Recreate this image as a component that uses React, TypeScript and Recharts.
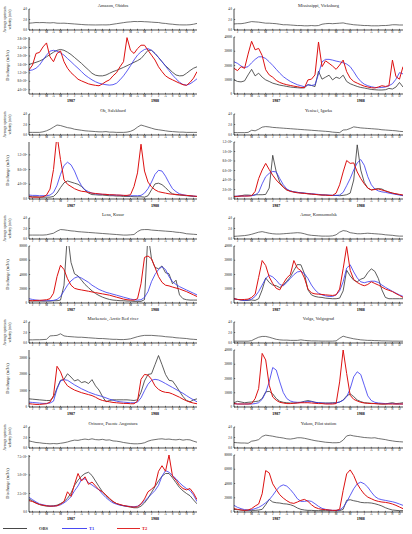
import { LineChart, Line, XAxis, YAxis } from 'recharts';

// time axis: half-month steps from Jan 1987 to end of Dec 1988 (months)
const MONTHS = ['J', 'F', 'M', 'A', 'M', 'J', 'J', 'A', 'S', 'O', 'N', 'D'];
const YEARS = ['1987', '1988'];
const T = Array.from({ length: 49 }, (_, i) => i / 2);
const MONTH_TICKS = Array.from({ length: 24 }, (_, i) => i + 0.5);
const YEAR_TICKS = [6, 18];

// velocity in m/s, discharge in 10^3 m3/s
const amazonVel = [1.3,1.35,1.42,1.4,1.42,1.38,1.35,1.4,1.3,1.28,1.3,1.25,1.2,1.15,1.1,1.05,1.0,0.98,0.97,0.96,0.97,0.98,0.97,1.0,1.1,1.2,1.3,1.4,1.5,1.55,1.62,1.6,1.62,1.58,1.55,1.5,1.45,1.42,1.3,1.25,1.15,1.1,1.02,0.98,0.97,0.97,1.0,1.1,1.25];
const amazonObs = [160,165,170,176,184,196,207,218,227,231,227,218,207,193,179,165,149,134,118,109,106,106,110,118,126,132,139,146,154,162,170,178,188,207,227,227,212,193,173,154,139,123,110,106,107,118,131,142,149];
const amazonT1 = [131,134,142,157,181,204,223,227,223,215,204,188,173,157,142,126,110,98,87,78,71,67,64,62,64,71,87,106,129,154,181,204,220,231,235,227,212,193,173,152,131,110,92,76,65,62,68,79,92];
const amazonT2 = [134,157,212,217,243,262,196,173,212,224,173,142,121,106,90,82,75,68,64,61,59,68,79,87,106,121,149,173,287,227,212,235,251,251,227,204,181,149,126,106,95,87,79,71,64,61,75,95,126];

const missVel = [1.15,1.2,1.2,1.3,1.45,1.6,1.55,1.5,1.4,1.3,1.3,1.25,1.2,1.1,1.0,1.0,0.95,0.9,0.85,0.85,0.8,0.8,0.85,0.8,0.85,1.1,1.2,1.25,1.2,1.25,1.3,1.35,1.2,1.1,1.0,0.95,0.9,0.85,0.85,0.8,0.8,0.8,0.85,0.85,0.9,1.0,1.0,0.95,0.95];
const missObs = [9.9,8.8,8.5,9.2,13.4,17.3,12.7,14.6,11.8,9.9,8.8,7.6,6.9,6.2,5.8,5.3,4.9,4.6,4.4,4.2,4.4,6.5,6.0,5.2,16.0,10.4,11.8,13.2,9.9,11.8,10.9,13.2,8.8,7.2,6.2,5.3,4.6,4.2,3.7,3.2,3.0,2.8,2.8,3.0,3.9,3.5,4.9,8.1,4.9];
const missT1 = [22.6,21.5,19.6,18.5,19.2,21.9,24.3,26.1,26.1,24.9,22.6,20.1,17.3,14.6,12.2,10.4,8.8,7.6,6.5,5.8,5.1,6.5,6.0,6.5,14.0,22.6,24.3,24.3,23.8,23.1,22.6,21.9,21.0,19.2,15.7,11.8,8.8,6.9,5.8,5.1,4.6,4.4,4.6,4.9,5.8,7.2,10.4,15.0,14.1];
const missT2 = [18.0,16.4,19.2,18.0,28.0,37.0,31.0,32.0,27.0,17.0,13.4,11.8,9.5,8.1,7.2,6.5,6.0,5.5,5.1,4.6,4.4,9.9,10.4,13.4,36.5,19.2,23.3,21.5,19.6,17.3,20.3,23.8,15.7,11.1,8.8,7.6,6.5,5.5,4.9,4.4,4.2,4.9,5.8,5.3,5.8,23.8,12.2,10.4,19.2];

const obVel = [0.5,0.5,0.5,0.5,0.6,0.8,1.1,1.5,1.9,1.8,1.6,1.4,1.3,1.1,1.0,0.9,0.8,0.75,0.7,0.65,0.6,0.6,0.65,0.55,0.55,0.5,0.5,0.5,0.55,0.7,1.0,1.5,1.9,1.7,1.5,1.3,1.1,1.0,0.9,0.8,0.7,0.65,0.6,0.55,0.55,0.5,0.5,0.5,0.5];
const obObs = [7,6,6,5,5,5,5,7,16,31,44,49,46,43,40,34,24,16,12,11.5,10.7,10.7,9.8,8.9,8.9,8,8,7,7,7,6,6,6,5,8.9,25,41,43,39,31,21,14,11.5,10.7,9.8,8.9,8,7,7];
const obT1 = [10.7,9.8,9.8,8.9,8.9,8.9,10.7,17.8,37,67,91,100,93,76,53,36,25,20,16,14,13,12.5,12.5,11.5,10.7,10.7,9.8,9.8,8.9,8.9,8.9,8.9,9.8,16,28,46,67,78,76,62,44,28,20,14,11.5,9.8,8.9,8,7];
const obT2 = [6,5,5,5,6,10.7,27,80,175,107,52,40,34,28,24,21,20,17.8,16,15,14,13,12.5,11.5,11.5,10.7,10.7,9.8,9.8,11.5,34,71,149,76,46,33,25,20,17.8,16,14,13,12.5,11.5,10.7,9.8,8.9,8,7];

const yenVel = [0.45,0.45,0.45,0.45,0.5,0.9,0.8,1.1,1.5,1.6,1.55,1.45,1.4,1.35,1.3,1.25,1.2,1.15,1.1,1.05,1.0,0.95,0.9,0.85,0.8,0.75,0.7,0.65,0.55,0.5,0.45,0.95,1.0,1.25,1.55,1.45,1.35,1.3,1.25,1.2,1.15,1.1,1.0,0.95,0.9,0.85,0.8,0.7,0.65];
const yenObs = [4,5.5,6.9,8.3,8.3,7.6,9,9,9,9.7,23,92,57,35,25,19,17,15,14,13,12.4,11,10.4,9.7,9,8.3,8.3,7.6,7.6,7.6,6.9,7.6,9,12.4,40,114,61,35,23,19,21,22,21,17,14.5,12.4,10.4,9,7.6];
const yenT1 = [5.5,6.2,6.2,6.2,6.9,6.9,8.3,14,32,47,54,58,57,43,30,21,17,15,14,13,12.4,11.7,11,10.4,9.7,9,8.3,8.3,7.6,7.6,8.3,14,28,43,61,76,83,71,47,30,21,17,15,14,12.4,11,9.7,8.3,6.9];
const yenT2 = [5.5,5.5,6.2,6.2,6.2,6.9,16,43,61,75,62,50,40,32,25,19,16,14.5,13,12.4,11.7,11,10.4,9.7,9,8.3,8.3,7.6,7.6,12.4,30,57,81,75,76,57,43,32,23,19,20,21,19,17,14.5,12.4,11,9.7,8.3];

const lenaVel = [0.75,0.75,0.75,0.75,0.75,0.8,0.95,1.1,1.5,1.8,1.75,1.65,1.55,1.5,1.4,1.35,1.3,1.25,1.2,1.15,1.1,1.05,1.0,0.95,0.9,0.85,0.8,0.75,0.75,0.8,0.85,1.4,1.75,1.8,1.8,1.7,1.65,1.6,1.55,1.5,1.45,1.4,1.3,1.25,1.15,1.0,0.95,0.9,0.85];
const lenaObs = [3.2,2.7,2.7,2.7,2.7,2.7,2.7,3.2,3.2,4.1,25,98,57,41,38,32,26,21.5,17,13.3,10.5,8.2,6.4,5,4.1,3.7,3.2,3.2,2.7,2.7,2.3,2.3,2.3,4.6,98,62,50,48,52,42.5,41,27,32,11.4,6,4.6,4.1,4.1,4.1];
const lenaT1 = [6,5,4.1,3.7,3.2,3.2,3.2,3.7,5,9.1,17,25,31,35,37,35,32,29,25,22,19,17,15,13.7,12.3,11,9.6,8.2,6.9,5.5,4.6,4.1,4.6,7.8,16,30,40,47,51,47,37,30,26,23,20.6,18.3,16,13.7,11.4];
const lenaT2 = [3.2,3.2,3.7,3.7,4.1,4.6,6,13.7,37,53,47,34,25,20.6,19.2,18.3,17.4,16.5,15.5,14.6,13.7,12.8,11.9,11,9.6,8.2,6.9,5.5,4.6,4.1,4.1,6,27,64,66,62,50,37,29,25,24,22.4,21,19.7,17.8,16,13.7,11.4,9.1];

const amurVel = [0.5,0.55,0.6,0.65,0.75,0.9,1.1,1.3,1.4,1.25,1.1,1.0,0.95,0.95,1.0,1.05,1.1,1.15,1.2,1.15,1.0,0.8,0.7,0.65,0.6,0.55,0.55,0.55,0.6,0.8,1.3,1.6,1.5,1.2,1.1,1.0,1.0,1.05,1.1,1.05,1.0,0.95,0.9,0.8,0.75,0.7,0.6,0.55,0.55];
const amurObs = [3,2.5,2.1,1.8,1.8,2.1,1.8,3,9.2,17.6,14.4,12.6,12.1,10.8,12.6,15.3,18.3,22.9,27,26.8,20.6,9.2,5.7,4.6,4.1,3.9,3.4,3.2,3,3,3.4,8.5,23,19,16,14.9,16.7,17.6,21.3,24,22.2,17.2,9.2,3.9,3,3,3,3,3];
const amurT1 = [3,2.5,2.1,1.8,2.1,2.7,4.6,8,12.6,17.2,19.5,18.3,16,13,12.1,14.4,17.2,19.9,21.8,22.2,20.6,17.2,12.6,9.2,6.9,5.7,5,4.6,4.6,5.7,8.5,14.9,24.5,26.8,21.8,17.6,14.9,14.2,14.9,15.3,15.3,14.4,12.6,11,9.6,8.2,6.9,5.7,4.6];
const amurT2 = [3,2.5,2.3,2.5,2.7,3.9,6.2,18,29.8,26.3,18.3,13.7,10.3,9.2,13.7,17.6,19.9,29.8,24.5,22.7,17.6,9.8,7.1,6.4,6.2,6,5.7,5.5,5.3,5.7,9.8,24,39.6,22.9,16.5,14.4,13,12.1,13,14.9,13.7,12.6,11.2,9.8,8.9,8,6.6,5.3,3.9];

const mackVel = [0.6,0.6,0.62,0.62,0.65,0.7,1.35,1.4,1.45,1.75,1.35,1.25,1.2,1.15,1.1,1.1,1.05,1.0,0.95,0.9,0.85,0.85,0.8,0.75,0.7,0.7,0.65,0.65,0.7,0.8,1.0,1.2,1.35,1.45,1.45,1.45,1.4,1.35,1.3,1.2,1.15,1.1,1.0,0.95,0.9,0.85,0.75,0.7,0.65];
const mackObs = [5,4.8,4.6,4.4,4.2,4,4,6,11.6,16.4,17,20.4,18.4,16,16.8,15,15.6,14.4,16.8,13,10.4,6.4,3.2,4,4.4,4.4,4.4,4.4,4.4,4.2,4,4.4,9,16,20,20.4,26,31.6,26,20,16.4,16,13,9.6,6.4,4,3.2,4.4,5];
const mackT1 = [3,2.8,2.6,2.4,2.2,2.2,2.4,3.6,11,16,16.8,16.4,15,13.6,12.4,11.2,10.2,9.2,8.4,7.6,7,6.4,5.6,4.8,4.2,3.6,3.2,3,2.8,2.6,2.6,3,5.6,10,14,16.4,17,16.6,15.6,14.4,13.2,12,10.8,9.6,8.4,7,5.6,4.4,3.2];
const mackT2 = [2,1.8,1.6,1.6,1.8,2,3,7,25,21.6,16,13,11.6,10.4,9.6,8.8,8.2,7.6,7,6,4.8,4,3.6,3.2,2.8,2.6,2.4,2.2,2.2,2,2,3.6,17,20,19.6,17,13,10.8,9.6,9,8.8,8,7,6,4.8,3.8,3,2.4,2];

const volgaVel = [0.35,0.35,0.35,0.35,0.35,0.45,0.8,1.1,1.25,1.25,1.1,0.9,0.7,0.6,0.55,0.55,0.5,0.5,0.5,0.6,0.5,0.45,0.4,0.4,0.38,0.36,0.36,0.36,0.36,0.4,0.9,1.3,1.1,0.95,0.8,0.7,0.6,0.55,0.5,0.5,0.45,0.45,0.4,0.4,0.38,0.36,0.36,0.35,0.35];
const volgaObs = [3,4,3.5,3,3.3,3.5,3.8,4.2,5.9,10.6,11,9.2,5.9,4,3.3,3,2.8,2.8,3,3.3,4,4.5,4,3.3,3,2.8,2.8,2.8,3,3,3.5,4.9,7.8,9.2,7.3,4.9,3.8,3,2.8,2.6,2.4,2.4,2.1,2.1,2.6,3,2.4,2.6,3];
const volgaT1 = [2.4,2.1,2.1,2.1,2.1,2.1,2.4,3,5.4,10.1,17.6,27.7,25.9,17.6,10.1,5.9,4.2,3.5,3.3,3.3,3.5,3.8,3.8,3.3,3,2.8,2.6,2.6,2.6,2.8,3.5,4.7,7.1,12.9,21.2,24.7,22.8,15.3,7.8,4.5,3.3,2.8,2.6,2.4,2.4,2.4,2.1,2.1,2.1];
const volgaT2 = [2.4,2.1,2.1,2.1,2.1,2.4,5.9,12.9,37.6,33,15.3,7,4.7,3.3,2.8,2.4,2.4,2.6,2.8,3,3,3,2.8,2.6,2.4,2.4,2.1,2.1,2.1,2.4,17.6,40,23.5,8.2,5.4,4.2,3.3,2.8,2.6,2.4,2.4,2.1,2.1,2.1,2.1,2.1,2.1,2.1,2.1];

const orinVel = [1.35,1.2,1.05,1.0,0.9,0.85,0.8,0.85,0.8,0.9,1.0,1.15,1.35,1.5,1.45,1.6,1.7,1.6,1.75,1.6,1.55,1.65,1.5,1.55,1.35,1.3,1.2,1.05,0.95,0.85,0.8,0.8,0.85,1.0,1.3,1.5,1.6,1.7,1.75,1.65,1.7,1.6,1.55,1.65,1.5,1.6,1.55,1.3,1.1];
const orinObs = [17.6,15,12.3,10.1,8.8,7.9,7.9,8.4,9.2,11.4,14.1,18.5,25.5,36,43,48.4,52,53.7,49.3,41.8,34.3,27.3,22,17.6,14.1,11.4,9.7,8.4,7.5,6.6,5.7,5.7,7.9,12.3,18.5,26.4,34.3,41.8,48.4,52,52,46.2,39.6,33,28.6,25,22,16.3,11];
const orinT1 = [19.8,16.7,13.6,11,9.7,8.8,7.9,7.9,8.4,9.7,12.3,15.8,20.7,28.6,35.2,44,44.9,39.6,36.5,33,29.9,24.2,19.4,15.4,12.3,10.6,9.2,8.4,7.9,7.5,7,7.9,10.6,14.5,19.4,24.2,29,36,48.4,55.9,53.7,49.3,44.9,39.6,35.2,31.7,29,22.9,14.1];
const orinT2 = [15.4,14.1,11.9,10.1,9.2,8.4,7.9,7.9,8.4,10.6,14.1,27.3,21.1,37.4,52,41.8,47.5,37.4,40.5,35.2,29.9,27.3,22.9,18.5,14.1,11.4,10.1,8.8,7.9,7,6.6,7,11,17.6,27.3,30.8,35.2,55,62.5,55,77,48.4,43.1,36,31.7,29.9,31.7,25.5,16.7];

const yukonVel = [1.05,1.0,0.95,0.95,0.9,1.3,1.4,1.6,2.2,2.45,2.35,2.25,2.1,2.0,1.9,1.75,1.7,1.8,1.95,1.95,1.85,1.7,1.55,1.4,1.3,1.2,1.1,1.05,1.0,1.0,1.05,1.5,2.3,2.45,2.3,2.2,2.1,2.0,1.95,1.9,1.95,1.8,1.7,1.6,1.45,1.35,1.25,1.2,1.15];
const yukonObs = [3.7,3.3,2.8,2.3,2.3,2.3,2.3,2.8,3.7,10.2,17.7,14,13,12.6,11.6,11.2,10.2,8.4,5.6,3.7,2.8,2.3,2.3,1.9,1.9,1.9,1.9,1.9,1.9,1.9,1.9,3.7,16.3,17.2,15.8,14.9,13.5,13,13,12.6,11.6,10.2,8.4,6,4.2,2.8,2.3,1.9,1.9];
const yukonT1 = [9.3,6.5,4.7,3.3,2.8,3.3,4.7,6.5,9.3,13,17.2,23.3,30.2,35.8,38.1,36.3,31.6,25.6,18.6,14.9,14.9,15.8,14.9,11.6,7.9,5.1,3.7,2.8,2.3,2.3,2.8,6.5,14,23.3,32.6,39.5,41.9,39.5,34.9,27.9,21.9,18.6,17.2,16.3,15.3,14.4,13,11.2,9.3];
const yukonT2 = [4.7,3.7,2.8,2.3,2.8,4.7,8.4,11.2,25.6,58.1,54.9,39.5,31.6,24.2,19.5,15.8,13,12.1,14,16.3,17.7,14.9,10.2,6.5,4.7,3.7,3.3,2.8,2.3,2.3,3.7,30.2,53.5,59.1,51.2,39.5,31.6,25.1,20.9,18.6,16.3,14.9,14,13.5,12.6,11.2,9.3,7,4.7];

const VEL_TICKS = [0, 2, 4];

const RIVERS = [
  { name: 'Amazon, Obidos', vel: amazonVel, obs: amazonObs, t1: amazonT1, t2: amazonT2, domain: [20, 290], ticks: [40, 80, 120, 160, 200, 240, 280], sci: true },
  { name: 'Mississippi, Vicksburg', vel: missVel, obs: missObs, t1: missT1, t2: missT2, domain: [0, 40], ticks: [0, 10, 20, 30, 40], sci: false },
  { name: 'Ob, Salekhard', vel: obVel, obs: obObs, t1: obT1, t2: obT2, domain: [0, 155], ticks: [0, 40, 80, 120], sci: true },
  { name: 'Yenisei, Igarka', vel: yenVel, obs: yenObs, t1: yenT1, t2: yenT2, domain: [0, 120], ticks: [0, 20, 40, 60, 80, 100, 120], sci: true },
  { name: 'Lena, Kusur', vel: lenaVel, obs: lenaObs, t1: lenaT1, t2: lenaT2, domain: [0, 80], ticks: [0, 20, 40, 60, 80], sci: false },
  { name: 'Amur, Komsomolsk', vel: amurVel, obs: amurObs, t1: amurT1, t2: amurT2, domain: [0, 40], ticks: [0, 10, 20, 30, 40], sci: false },
  { name: 'Mackenzie, Arctic Red river', vel: mackVel, obs: mackObs, t1: mackT1, t2: mackT2, domain: [0, 35], ticks: [0, 10, 20, 30], sci: false },
  { name: 'Volga, Volgograd', vel: volgaVel, obs: volgaObs, t1: volgaT1, t2: volgaT2, domain: [0, 40], ticks: [0, 10, 20, 30, 40], sci: false },
  { name: 'Orinoco, Puente Angostura', vel: orinVel, obs: orinObs, t1: orinT1, t2: orinT2, domain: [0, 77], ticks: [0, 25, 50, 75], sci: true },
  { name: 'Yukon, Pilot station', vel: yukonVel, obs: yukonObs, t1: yukonT1, t2: yukonT2, domain: [0, 80], ticks: [0, 20, 40, 60, 80], sci: false },
];

// layout
const COLS = [{ x: 29, w: 168 }, { x: 234, w: 169 }];
const ROWS = [0, 105, 209, 313, 418];
const YW = 30;
const PAD = 3;
const VEL_TOP = 9;
const VEL_H = 21;
const DIS_TOP = 37;
const DIS_H = 57;

const OBS_COLOR = '#333333';
const T1_COLOR = '#3535f0';
const T2_COLOR = '#dd1111';

const SUP = '⁰¹²³⁴⁵⁶⁷⁸⁹';
function sciLabel(k: number) {
  const v = k * 1000;
  if (v === 0) return '0.0';
  const e = Math.floor(Math.log10(v) + 1e-9);
  const m = v / Math.pow(10, e);
  return `${m.toFixed(1)}×10${String(e).split('').map((d) => SUP[+d]).join('')}`;
}
const plainLabel = (k: number) => `${Math.round(k * 1000)}`;
const monthLabel = (v: number) => MONTHS[Math.floor(v) % 12];
const yearLabel = (v: number) => YEARS[v < 12 ? 0 : 1];

const axisLine = { stroke: '#000', strokeWidth: 0.7 };
const tickLine = { stroke: '#000', strokeWidth: 0.5 };
const tickFont = { fontSize: 3, fill: '#000' };

function frame(domain: number[], ticks: number[], fmt: (v: number) => string) {
  return [
    <XAxis key="xb" dataKey="t" type="number" domain={[0, 24]} ticks={MONTH_TICKS} interval={0}
      tickFormatter={monthLabel} height={5} tickSize={-1.2} tickMargin={2.2} tick={tickFont}
      axisLine={axisLine} tickLine={tickLine} allowDataOverflow />,
    <XAxis key="xt" xAxisId="top" orientation="top" dataKey="t" type="number" domain={[0, 24]}
      ticks={MONTH_TICKS} interval={0} tick={false} height={0} tickSize={-1.2}
      axisLine={axisLine} tickLine={tickLine} allowDataOverflow />,
    <YAxis key="yl" type="number" domain={domain} ticks={ticks} interval={0} tickFormatter={fmt}
      width={YW} tickSize={-1.2} tickMargin={3.2} tick={tickFont}
      axisLine={axisLine} tickLine={tickLine} allowDataOverflow />,
    <YAxis key="yr" yAxisId="right" orientation="right" type="number" domain={domain} ticks={ticks}
      interval={0} tick={false} width={0} tickSize={-1.2}
      axisLine={axisLine} tickLine={tickLine} allowDataOverflow />,
  ];
}

function RiverPanel({ river, col, row }: any) {
  const c = COLS[col];
  const y0 = ROWS[row];
  const data = T.map((t, i) => ({
    t,
    vel: river.vel[i],
    obs: river.obs[i],
    t1: river.t1[i],
    t2: river.t2[i],
  }));
  const fmt = river.sci ? sciLabel : plainLabel;
  return (
    <>
      <div style={{ position: 'absolute', left: c.x - YW, top: y0 + VEL_TOP - PAD }}>
        <LineChart width={YW + c.w + PAD} height={PAD + VEL_H + 5} data={data}
          margin={{ top: PAD, right: PAD, bottom: 0, left: 0 }}>
          {frame([0, 4], VEL_TICKS, (v) => v.toFixed(1))}
          <Line type="linear" dataKey="vel" stroke={OBS_COLOR} strokeWidth={0.7} dot={false}
            activeDot={false} isAnimationActive={false} />
        </LineChart>
      </div>
      <div style={{ position: 'absolute', left: c.x - YW, top: y0 + DIS_TOP - PAD }}>
        <LineChart width={YW + c.w + PAD} height={PAD + DIS_H + 5 + 7} data={data}
          margin={{ top: PAD, right: PAD, bottom: 0, left: 0 }}>
          {frame(river.domain, river.ticks, fmt)}
          <XAxis xAxisId="year" dataKey="t" type="number" domain={[0, 24]} ticks={YEAR_TICKS}
            interval={0} tickFormatter={yearLabel} height={7} axisLine={false} tickLine={false}
            tickSize={0} tickMargin={0.5} tick={{ fontSize: 4, fill: '#000', fontWeight: 'bold' }} />
          <Line type="linear" dataKey="obs" stroke={OBS_COLOR} strokeWidth={0.8} dot={false}
            activeDot={false} isAnimationActive={false} />
          <Line type="linear" dataKey="t1" stroke={T1_COLOR} strokeWidth={0.8} dot={false}
            activeDot={false} isAnimationActive={false} />
          <Line type="linear" dataKey="t2" stroke={T2_COLOR} strokeWidth={1} dot={false}
            activeDot={false} isAnimationActive={false} />
        </LineChart>
      </div>
    </>
  );
}

const LEGEND = [
  { label: 'OBS', color: OBS_COLOR, x1: 3, x2: 27, tx: 39 },
  { label: 'T1', color: T1_COLOR, x1: 62, x2: 87, tx: 89 },
  { label: 'T2', color: T2_COLOR, x1: 117, x2: 140, tx: 142 },
];

export default function App() {
  return (
    <div style={{
      position: 'absolute', left: 0, top: 0, width: 412, height: 534, background: '#fff',
      overflow: 'hidden', fontFamily: '"Liberation Serif", "Times New Roman", serif',
    }}>
      {RIVERS.map((r, i) => (
        <RiverPanel key={r.name} river={r} col={i % 2} row={Math.floor(i / 2)} />
      ))}
      <svg width={412} height={534} style={{ position: 'absolute', left: 0, top: 0, pointerEvents: 'none' }}>
        {RIVERS.map((r, i) => {
          const c = COLS[i % 2];
          const y0 = ROWS[Math.floor(i / 2)];
          return (
            <text key={r.name} x={c.x + c.w / 2} y={y0 + 7} fontSize={4.5} textAnchor="middle" fill="#222">
              {r.name}
            </text>
          );
        })}
        {ROWS.map((y0) => (
          <g key={y0} fill="#222">
            <text transform={`translate(6,${y0 + VEL_TOP + VEL_H / 2}) rotate(-90)`} fontSize={3.6} textAnchor="middle">
              Average upstream
            </text>
            <text transform={`translate(11,${y0 + VEL_TOP + VEL_H / 2}) rotate(-90)`} fontSize={3.6} textAnchor="middle">
              velocity (m/s)
            </text>
            <text transform={`translate(9,${y0 + DIS_TOP + DIS_H / 2}) rotate(-90)`} fontSize={4.4} textAnchor="middle">
              Discharge (m3/s)
            </text>
          </g>
        ))}
        {LEGEND.map((l) => (
          <g key={l.label}>
            <line x1={l.x1} x2={l.x2} y1={528.5} y2={528.5} stroke={l.color} strokeWidth={0.9} />
            <text x={l.tx} y={530} fontSize={4.5} fontWeight="bold" fill={l.color}>{l.label}</text>
          </g>
        ))}
      </svg>
    </div>
  );
}
